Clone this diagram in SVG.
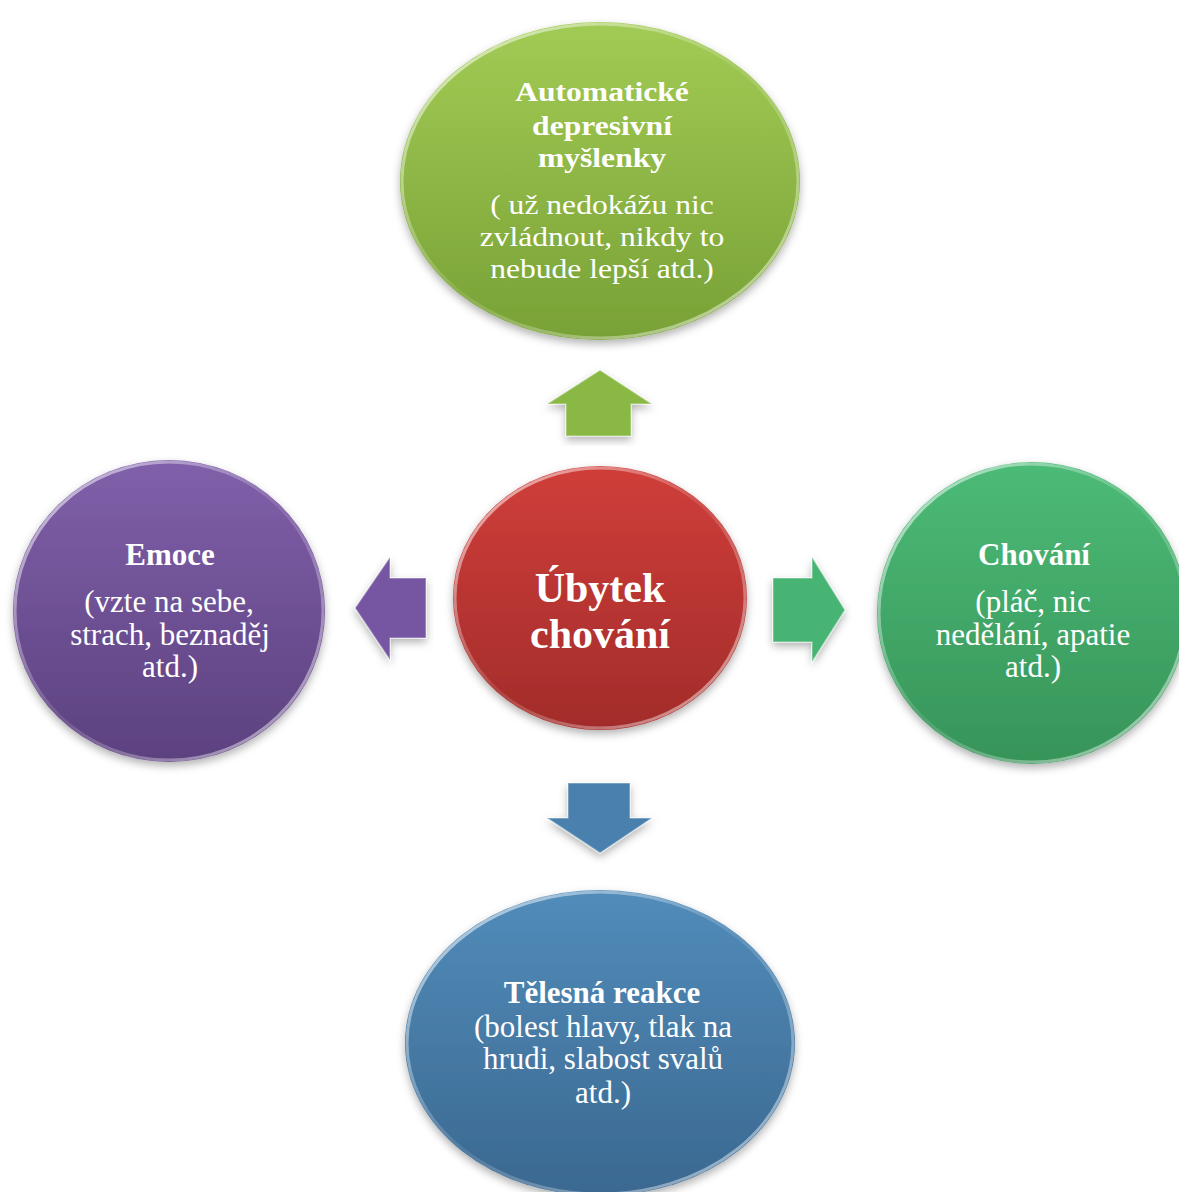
<svg xmlns="http://www.w3.org/2000/svg" width="1179" height="1192" viewBox="0 0 1179 1192">
  <defs>
    <linearGradient id="gTop" x1="0" y1="0" x2="0" y2="1">
      <stop offset="0" stop-color="#a2cb55"/>
      <stop offset="1" stop-color="#78a136"/>
    </linearGradient>
    <linearGradient id="gRed" x1="0" y1="0" x2="0" y2="1">
      <stop offset="0" stop-color="#d03e3a"/>
      <stop offset="1" stop-color="#a22c2a"/>
    </linearGradient>
    <linearGradient id="gPurple" x1="0" y1="0" x2="0" y2="1">
      <stop offset="0" stop-color="#8060aa"/>
      <stop offset="1" stop-color="#5c417f"/>
    </linearGradient>
    <linearGradient id="gGreen" x1="0" y1="0" x2="0" y2="1">
      <stop offset="0" stop-color="#4cbb77"/>
      <stop offset="1" stop-color="#379459"/>
    </linearGradient>
    <linearGradient id="gBlue" x1="0" y1="0" x2="0" y2="1">
      <stop offset="0" stop-color="#528cba"/>
      <stop offset="1" stop-color="#3a6890"/>
    </linearGradient>
    <linearGradient id="rim" x1="0" y1="0" x2="1" y2="1">
      <stop offset="0" stop-color="#ffffff" stop-opacity="0.7"/>
      <stop offset="0.5" stop-color="#ffffff" stop-opacity="0.1"/>
      <stop offset="1" stop-color="#ffffff" stop-opacity="0.6"/>
    </linearGradient>
    <filter id="sh" x="-10%" y="-10%" width="120%" height="125%">
      <feDropShadow dx="0" dy="4" stdDeviation="4" flood-color="#000" flood-opacity="0.3"/>
    </filter>
  </defs>
  <style>
    .rim { fill: none; stroke: url(#rim); stroke-width: 3; }
    .t { font-family: "Liberation Serif", "Times New Roman", serif; fill: #ffffff; text-anchor: middle; }
    .b { font-weight: bold; }
    .arrow { stroke: #ffffff; stroke-opacity: 0.35; stroke-width: 1.5; stroke-linejoin: miter; }
  </style>
  <rect width="1179" height="1192" fill="#ffffff"/>

  <g id="connectors">
    <polygon class="arrow" fill="#8ab845" points="600,370 652,404 631,404 631,436 566,436 566,404 547,404" filter="url(#sh)"/>
    <polygon class="arrow" fill="#7657a2" points="355,608 390,557 390,578 426,578 426,638 390,638 390,660" filter="url(#sh)"/>
    <polygon class="arrow" fill="#46b473" points="773,578 812,578 812,557 845,610 812,662 812,642 773,642" filter="url(#sh)"/>
    <polygon class="arrow" fill="#4880ae" points="568,783 630,783 630,818 652,818 600,853 547,818 568,818" filter="url(#sh)"/>
  </g>

  <g id="node-top">
    <ellipse cx="600" cy="181" rx="200" ry="159" fill="url(#gTop)" filter="url(#sh)"/>
    <ellipse class="rim" cx="600" cy="181" rx="198" ry="157"/>
    <g transform="translate(602 0) scale(1.17 1)">
      <text class="t b" font-size="27" x="0" y="101">Automatické</text>
      <text class="t b" font-size="27" x="0" y="135">depresivní</text>
      <text class="t b" font-size="27" x="0" y="167">myšlenky</text>
      <text class="t" font-size="27" x="0" y="214">( už nedokážu nic</text>
      <text class="t" font-size="27" x="0" y="246">zvládnout, nikdy to</text>
      <text class="t" font-size="27" x="0" y="278">nebude lepší atd.)</text>
    </g>
  </g>

  <g id="node-center">
    <ellipse cx="600" cy="598" rx="147" ry="132" fill="url(#gRed)" filter="url(#sh)"/>
    <ellipse class="rim" cx="600" cy="598" rx="145" ry="130"/>
    <text class="t b" font-size="42" x="600" y="602">Úbytek</text>
    <text class="t b" font-size="42" x="600" y="648">chování</text>
  </g>

  <g id="node-left">
    <ellipse cx="169" cy="611" rx="156" ry="151" fill="url(#gPurple)" filter="url(#sh)"/>
    <ellipse class="rim" cx="169" cy="611" rx="154" ry="149"/>
    <text class="t b" font-size="31" x="170" y="565">Emoce</text>
    <text class="t" font-size="31" x="169" y="612">(vzte na sebe,</text>
    <text class="t" font-size="31" x="170" y="645">strach, beznaděj</text>
    <text class="t" font-size="31" x="170" y="677">atd.)</text>
  </g>

  <g id="node-right">
    <ellipse cx="1032" cy="613" rx="155" ry="151" fill="url(#gGreen)" filter="url(#sh)"/>
    <ellipse class="rim" cx="1032" cy="613" rx="153" ry="149"/>
    <text class="t b" font-size="31" x="1034" y="565">Chování</text>
    <text class="t" font-size="31" x="1033" y="612">(pláč, nic</text>
    <text class="t" font-size="31" x="1033" y="645">nedělání, apatie</text>
    <text class="t" font-size="31" x="1033" y="677">atd.)</text>
  </g>

  <g id="node-bottom">
    <ellipse cx="600" cy="1043" rx="195" ry="153" fill="url(#gBlue)" filter="url(#sh)"/>
    <ellipse class="rim" cx="600" cy="1043" rx="193" ry="151"/>
    <text class="t b" font-size="31" x="602" y="1003">Tělesná reakce</text>
    <text class="t" font-size="31" x="603" y="1037">(bolest hlavy, tlak na</text>
    <text class="t" font-size="31" x="603" y="1069">hrudi, slabost svalů</text>
    <text class="t" font-size="31" x="603" y="1103">atd.)</text>
  </g>
</svg>
